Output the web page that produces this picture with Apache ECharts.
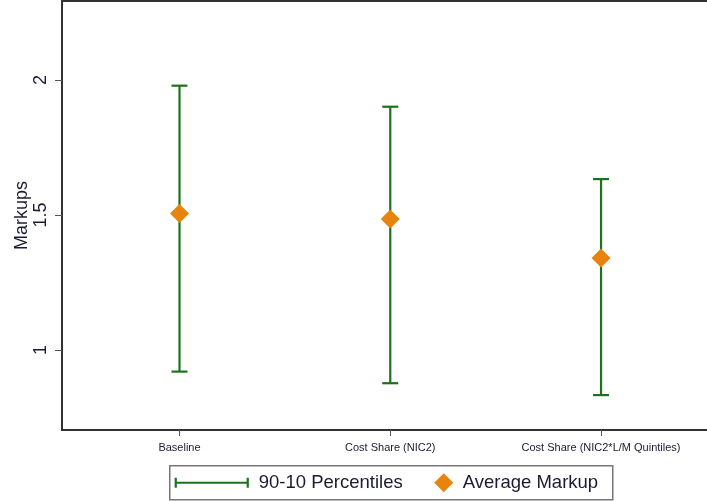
<!DOCTYPE html>
<html>
<head>
<meta charset="utf-8">
<script src="https://cdn.jsdelivr.net/npm/echarts@6/dist/echarts.min.js"></script>
<style>
  html, body { margin: 0; padding: 0; background: #fff; }
  #chart { width: 707px; height: 501px; }
</style>
</head>
<body>
<div id="chart"></div>
<script>
// Markup estimates by specification
const categories = ['Baseline', 'Cost Share (NIC2)', 'Cost Share (NIC2*L/M Quintiles)'];
const p90 = [1.979, 1.901, 1.633];
const p10 = [0.920, 0.877, 0.833];
const avgMarkup = [1.506, 1.485, 1.341];
const yTicks = [1, 1.5, 2];
const legendNames = ['90-10 Percentiles', 'Average Markup'];

const GREEN = '#1c721c';
const ORANGE = '#e8830c';
const TEXT = '#1a1a33';
const FONT = '"Liberation Sans", Arial, sans-serif';

const xPos = categories.map((c, i) => i + 1);
const barData = xPos.map((x, i) => [x, p10[i], p90[i]]);
const dotData = xPos.map((x, i) => [x, avgMarkup[i]]);

const chart = echarts.init(document.getElementById('chart'), null, { renderer: 'canvas' });

chart.setOption({
  backgroundColor: '#fff',
  animation: false,
  grid: {
    left: 62, right: -3, top: 1, bottom: 71,
    containLabel: false,
    outerBoundsMode: 'none',
    show: true, borderColor: '#333', borderWidth: 2
  },
  xAxis: {
    type: 'value',
    min: 0.4425, max: 3.517,
    splitLine: { show: false },
    axisLine: { show: true, onZero: false, lineStyle: { color: '#333', width: 2 } },
    axisTick: { show: true, length: 6, customValues: xPos, lineStyle: { color: '#555', width: 1 } },
    axisLabel: {
      customValues: xPos,
      formatter: v => categories[Math.round(v) - 1] || '',
      fontFamily: FONT, fontSize: 11, color: TEXT, margin: 12
    }
  },
  yAxis: {
    type: 'value',
    min: 0.7037, max: 2.2926,
    name: 'Markups',
    nameLocation: 'middle',
    nameRotate: 90,
    nameGap: 31,
    nameMoveOverlap: false,
    nameTextStyle: { fontFamily: FONT, fontSize: 18, color: TEXT },
    splitLine: { show: false },
    axisLine: { show: true, lineStyle: { color: '#333', width: 2 } },
    axisTick: { show: true, length: 7, customValues: yTicks, lineStyle: { color: '#555', width: 1 } },
    axisLabel: {
      customValues: yTicks,
      rotate: 90,
      formatter: v => String(v),
      fontFamily: FONT, fontSize: 18, color: TEXT, margin: 12
    }
  },
  series: [
    {
      name: legendNames[0],
      type: 'custom',
      data: barData,
      encode: { x: 0, y: [1, 2] },
      renderItem: function (params, api) {
        const x = api.value(0);
        const lo = api.coord([x, api.value(1)]);
        const hi = api.coord([x, api.value(2)]);
        const hw = 8;
        const style = { stroke: GREEN, lineWidth: 2.2, fill: null };
        return {
          type: 'group',
          children: [
            { type: 'line', shape: { x1: lo[0], y1: lo[1], x2: hi[0], y2: hi[1] }, style },
            { type: 'line', shape: { x1: hi[0] - hw, y1: hi[1], x2: hi[0] + hw, y2: hi[1] }, style },
            { type: 'line', shape: { x1: lo[0] - hw, y1: lo[1], x2: lo[0] + hw, y2: lo[1] }, style }
          ]
        };
      },
      z: 2
    },
    {
      name: legendNames[1],
      type: 'scatter',
      data: dotData,
      symbol: 'diamond',
      symbolSize: [19, 19],
      itemStyle: { color: ORANGE, opacity: 1 },
      z: 3
    }
  ],
  graphic: [
    {
      type: 'group',
      left: 169, top: 465,
      children: [
        { type: 'rect', shape: { x: 0, y: 0, width: 443, height: 34 },
          style: { fill: '#fff', stroke: '#777', lineWidth: 1.5 } },
        { type: 'line', shape: { x1: 6, y1: 17, x2: 78, y2: 17 }, style: { stroke: GREEN, lineWidth: 2.2 } },
        { type: 'line', shape: { x1: 6, y1: 12, x2: 6, y2: 22 }, style: { stroke: GREEN, lineWidth: 2.2 } },
        { type: 'line', shape: { x1: 78, y1: 12, x2: 78, y2: 22 }, style: { stroke: GREEN, lineWidth: 2.2 } },
        { type: 'text', x: 89, y: 17,
          style: { text: legendNames[0], fontFamily: FONT, fontSize: 18.5, fill: TEXT, verticalAlign: 'middle' } },
        { type: 'polygon', shape: { points: [[274, 7.5], [283.5, 17], [274, 26.5], [264.5, 17]] },
          style: { fill: ORANGE } },
        { type: 'text', x: 293, y: 17,
          style: { text: legendNames[1], fontFamily: FONT, fontSize: 18.5, fill: TEXT, verticalAlign: 'middle' } }
      ]
    }
  ]
});
</script>
</body>
</html>
